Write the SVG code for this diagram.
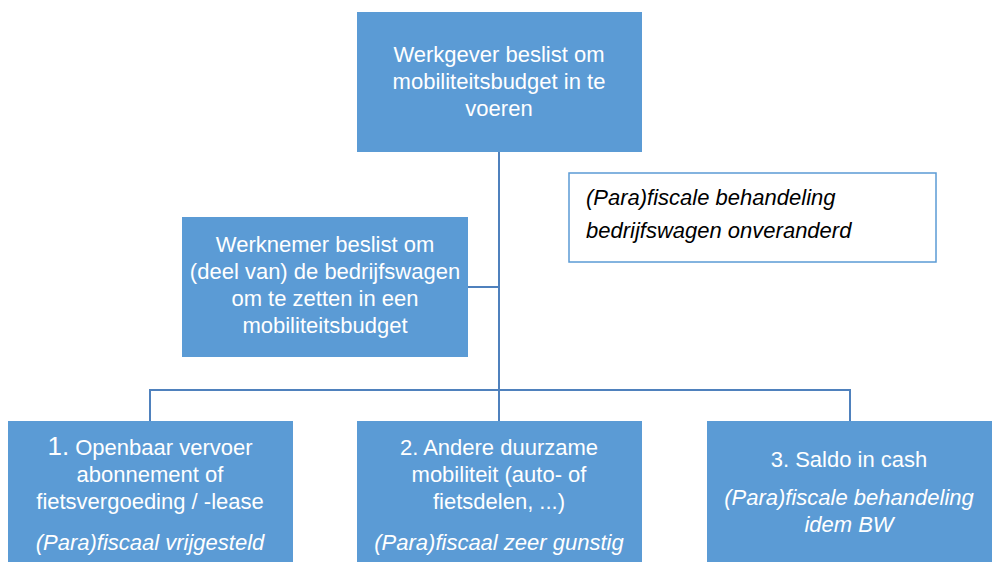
<svg xmlns="http://www.w3.org/2000/svg" width="1000" height="568" viewBox="0 0 1000 568">
<style>
.b{fill:#5b9bd5}
.t{fill:#fff;font-family:"Liberation Sans",Arial,sans-serif;font-size:22px;text-anchor:middle}
.i{font-style:italic}
.c{fill:none;stroke:#4f81bd;stroke-width:2}
</style>
<rect width="1000" height="568" fill="#fff"/>
<g id="connectors">
<path class="c" d="M499 152V390M468 287H499M150 421V390H850V421M499 390V421"/>
</g>
<g id="top"><rect class="b" x="357" y="12" width="285" height="140"/>
<text class="t" x="499" y="62">Werkgever beslist om</text><text class="t" x="499" y="89">mobiliteitsbudget in te</text><text class="t" x="499" y="116">voeren</text></g>
<g id="note"><rect x="569" y="173" width="367" height="89" fill="#fff" stroke="#5b9bd5" stroke-width="1.5"/>
<text x="586" y="205" class="i" font-family="Liberation Sans,Arial,sans-serif" font-size="22" fill="#000">(Para)fiscale behandeling</text>
<text x="586" y="238" class="i" font-family="Liberation Sans,Arial,sans-serif" font-size="22" fill="#000">bedrijfswagen onveranderd</text></g>
<g id="mid"><rect class="b" x="182" y="217" width="286" height="140"/>
<text class="t" x="325" y="252">Werknemer beslist om</text><text class="t" x="325" y="279">(deel van) de bedrijfswagen</text><text class="t" x="325" y="306">om te zetten in een</text><text class="t" x="325" y="333">mobiliteitsbudget</text></g>
<g id="b1"><rect class="b" x="8" y="421" width="285" height="141"/>
<text class="t" x="150" y="455"><tspan font-size="26">1.</tspan> Openbaar vervoer</text><text class="t" x="150" y="482">abonnement of</text><text class="t" x="150" y="509">fietsvergoeding / -lease</text><text class="t i" x="150" y="550">(Para)fiscaal vrijgesteld</text></g>
<g id="b2"><rect class="b" x="357" y="421" width="285" height="141"/>
<text class="t" x="499" y="455">2. Andere duurzame</text><text class="t" x="499" y="482">mobiliteit (auto- of</text><text class="t" x="499" y="509">fietsdelen, ...)</text><text class="t i" x="499" y="550">(Para)fiscaal zeer gunstig</text></g>
<g id="b3"><rect class="b" x="707" y="421" width="285" height="141"/>
<text class="t" x="849" y="467">3. Saldo in cash</text><text class="t i" x="849" y="505">(Para)fiscale behandeling</text><text class="t i" x="849" y="532">idem BW</text></g>
</svg>
